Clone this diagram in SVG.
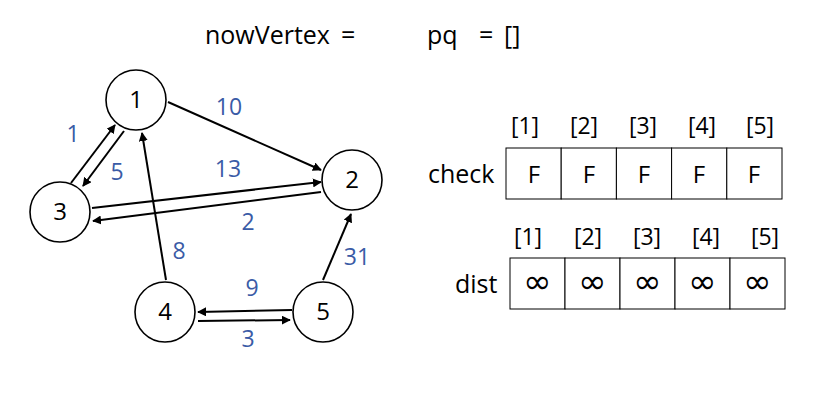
<svg xmlns="http://www.w3.org/2000/svg" width="837" height="400" viewBox="0 0 837 400">
<style>
text{font-family:"Open Sans","Noto Sans","DejaVu Sans",sans-serif;}
.node circle{fill:#fff;stroke:#000;stroke-width:1.6;}
.node text{font-size:24px;fill:#000;text-anchor:middle;}
.edge{stroke:#000;stroke-width:2;fill:none;marker-end:url(#ah);}
.w{font-size:23px;fill:#3a5ba6;text-anchor:middle;}
.t{font-size:25px;fill:#000;}
.idx{font-size:23px;fill:#000;text-anchor:middle;}
.cell{fill:#fff;stroke:#000;stroke-width:1;}
.cv{font-size:24px;fill:#000;text-anchor:middle;}
.inf{font-family:"DejaVu Sans",sans-serif;font-size:34px;fill:#000;text-anchor:middle;}
</style>
<defs>
<marker id="ah" viewBox="0 0 10 10" refX="9" refY="5" markerWidth="4.5" markerHeight="4.5" orient="auto" markerUnits="strokeWidth">
<path d="M0,0 L10,5 L0,10 z" fill="#000"/>
</marker>
</defs>
<rect width="837" height="400" fill="#fff"/>
<text class="t" x="205" y="44">nowVertex</text>
<text class="t" x="341" y="44">=</text>
<text class="t" x="427" y="44">pq</text>
<text class="t" x="479" y="44">=</text>
<text class="t" x="504" y="44">[]</text>

<g id="connectors">
<line class="edge" x1="168" y1="102" x2="321" y2="170"/>
<line class="edge" x1="71" y1="183" x2="115" y2="125"/>
<line class="edge" x1="124" y1="131" x2="83" y2="186"/>
<line class="edge" x1="92" y1="208" x2="321" y2="182"/>
<line class="edge" x1="321" y1="192" x2="93" y2="221"/>
<line class="edge" x1="166" y1="280" x2="142" y2="133"/>
<line class="edge" x1="323" y1="280" x2="351" y2="214"/>
<line class="edge" x1="292" y1="310" x2="198" y2="312"/>
<line class="edge" x1="198" y1="321" x2="290" y2="320"/>
</g>
<g id="weights">
<text class="w" x="229" y="115">10</text>
<text class="w" x="73" y="142">1</text>
<text class="w" x="117" y="180">5</text>
<text class="w" x="228" y="177">13</text>
<text class="w" x="248" y="230">2</text>
<text class="w" x="179" y="259">8</text>
<text class="w" x="357" y="265">31</text>
<text class="w" x="252" y="296">9</text>
<text class="w" x="248" y="347">3</text>
</g>

<g id="node1" class="node"><circle cx="136" cy="100" r="30"/><text x="136" y="108">1</text></g>
<g id="node2" class="node"><circle cx="352" cy="180" r="30"/><text x="352" y="188">2</text></g>
<g id="node3" class="node"><circle cx="60" cy="212" r="30"/><text x="60" y="220">3</text></g>
<g id="node4" class="node"><circle cx="165" cy="312" r="30"/><text x="165" y="320">4</text></g>
<g id="node5" class="node"><circle cx="323" cy="312" r="30"/><text x="323" y="320">5</text></g>

<g id="check">
<text class="t" x="428" y="183">check</text>
<text class="idx" x="525" y="134">[1]</text>
<text class="idx" x="584" y="134">[2]</text>
<text class="idx" x="643" y="134">[3]</text>
<text class="idx" x="702" y="134">[4]</text>
<text class="idx" x="760" y="134">[5]</text>
<rect class="cell" x="506" y="148" width="55.2" height="51"/>
<rect class="cell" x="561.2" y="148" width="55.2" height="51"/>
<rect class="cell" x="616.4" y="148" width="55.2" height="51"/>
<rect class="cell" x="671.6" y="148" width="55.2" height="51"/>
<rect class="cell" x="726.8" y="148" width="55.2" height="51"/>
<text class="cv" x="534" y="183">F</text>
<text class="cv" x="589" y="183">F</text>
<text class="cv" x="644" y="183">F</text>
<text class="cv" x="699" y="183">F</text>
<text class="cv" x="754" y="183">F</text>
</g>
<g id="dist">
<text class="t" x="455" y="293">dist</text>
<text class="idx" x="528" y="245">[1]</text>
<text class="idx" x="588" y="245">[2]</text>
<text class="idx" x="647" y="245">[3]</text>
<text class="idx" x="706" y="245">[4]</text>
<text class="idx" x="765" y="245">[5]</text>
<rect class="cell" x="510" y="258" width="55" height="51"/>
<rect class="cell" x="565" y="258" width="55" height="51"/>
<rect class="cell" x="620" y="258" width="55" height="51"/>
<rect class="cell" x="675" y="258" width="55" height="51"/>
<rect class="cell" x="730" y="258" width="55" height="51"/>
<text class="inf" x="537.5" y="293">∞</text>
<text class="inf" x="592.5" y="293">∞</text>
<text class="inf" x="647.5" y="293">∞</text>
<text class="inf" x="702.5" y="293">∞</text>
<text class="inf" x="757.5" y="293">∞</text>
</g>
</svg>
